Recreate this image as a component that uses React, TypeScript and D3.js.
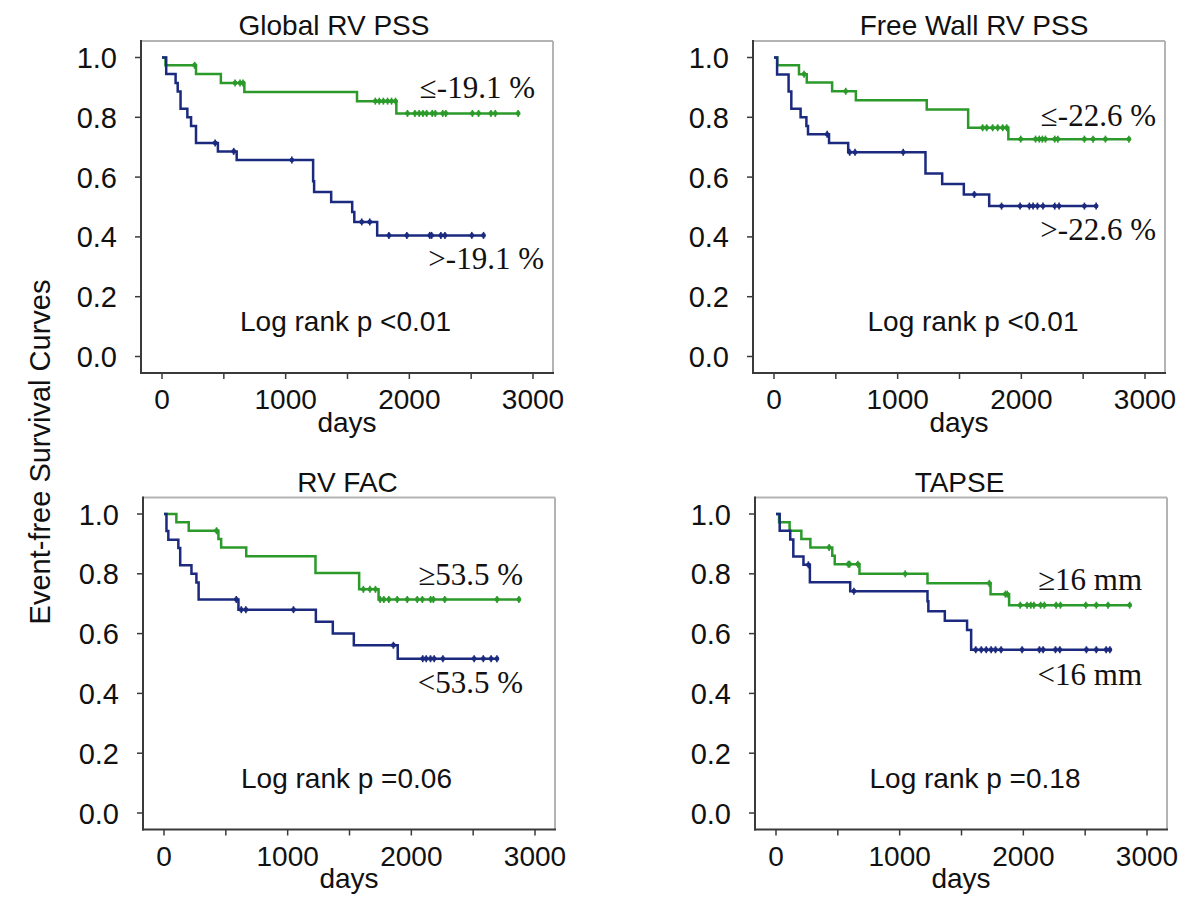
import React from "react";
import * as d3 from "d3";

// ---------- text ----------
const panelTitles = ["Global RV PSS", "Free Wall RV PSS", "RV FAC", "TAPSE"];
const pValueTexts = ["Log rank p <0.01", "Log rank p <0.01", "Log rank p =0.06", "Log rank p =0.18"];
const goodLabels = ["≤-19.1 %", "≤-22.6 %", "≥53.5 %", "≥16 mm"];
const poorLabels = [">-19.1 %", ">-22.6 %", "<53.5 %", "<16 mm"];
const yAxisTitle = "Event-free Survival Curves";
const xAxisTitle = "days";

// ---------- ticks ----------
const xTickValues = [0, 500, 1000, 1500, 2000, 2500, 3000];
const xLabelValues = [0, 1000, 2000, 3000];
const yTickValues = [0, 0.2, 0.4, 0.6, 0.8, 1.0];

// ---------- Global RV PSS ----------
const globalGoodTimes = [0, 28, 275, 476, 666, 1577, 1895];
const globalGoodSurv = [1, 0.974, 0.945, 0.915, 0.885, 0.854, 0.813];
const globalGoodCensor = [264, 591, 631, 655, 1725, 1757, 1790, 1824, 1856, 1888, 1985, 2045, 2080, 2110, 2140, 2185, 2210, 2270, 2295, 2510, 2560, 2660, 2695, 2880];
const globalPoorTimes = [0, 34, 110, 127, 150, 205, 235, 275, 452, 604, 1222, 1230, 1368, 1538, 1555, 1740];
const globalPoorSurv = [1, 0.945, 0.915, 0.886, 0.829, 0.8, 0.771, 0.714, 0.686, 0.657, 0.586, 0.55, 0.517, 0.483, 0.45, 0.405];
const globalPoorCensor = [430, 580, 1050, 1615, 1680, 1835, 1980, 2165, 2180, 2255, 2288, 2505, 2600];

// ---------- Free Wall RV PSS ----------
const freeGoodTimes = [0, 27, 202, 265, 470, 662, 1235, 1570, 1895];
const freeGoodSurv = [1, 0.974, 0.944, 0.916, 0.887, 0.857, 0.826, 0.765, 0.727];
const freeGoodCensor = [243, 580, 1687, 1720, 1768, 1809, 1849, 1882, 1995, 2115, 2145, 2170, 2195, 2270, 2295, 2510, 2580, 2680, 2870];
const freePoorTimes = [0, 25, 118, 140, 215, 262, 275, 445, 600, 1225, 1360, 1535, 1740];
const freePoorSurv = [1, 0.943, 0.886, 0.829, 0.8, 0.771, 0.743, 0.714, 0.683, 0.612, 0.577, 0.542, 0.503];
const freePoorCensor = [430, 612, 655, 1045, 1620, 1840, 1990, 2065, 2095, 2130, 2175, 2270, 2305, 2510, 2605];

// ---------- RV FAC ----------
const facGoodTimes = [0, 100, 200, 440, 462, 665, 1225, 1578, 1735];
const facGoodSurv = [1, 0.972, 0.944, 0.916, 0.888, 0.859, 0.803, 0.748, 0.714];
const facGoodCensor = [425, 1612, 1665, 1710, 1748, 1778, 1818, 1886, 1967, 2048, 2089, 2156, 2178, 2270, 2693, 2870];
const facPoorTimes = [0, 20, 35, 116, 131, 222, 262, 280, 602, 1228, 1365, 1535, 1890];
const facPoorSurv = [1, 0.943, 0.914, 0.886, 0.829, 0.8, 0.771, 0.714, 0.68, 0.64, 0.6, 0.561, 0.516];
const facPoorCensor = [585, 625, 662, 1047, 1855, 2092, 2120, 2155, 2185, 2255, 2508, 2582, 2645, 2692];

// ---------- TAPSE ----------
const tapseGoodTimes = [0, 25, 110, 205, 278, 455, 475, 675, 1225, 1735, 1885];
const tapseGoodSurv = [1, 0.972, 0.944, 0.916, 0.888, 0.86, 0.832, 0.8, 0.768, 0.732, 0.695];
const tapseGoodCensor = [430, 585, 595, 662, 1045, 1725, 1855, 1870, 1975, 2030, 2060, 2085, 2140, 2170, 2265, 2300, 2505, 2590, 2685, 2860];
const tapsePoorTimes = [0, 30, 115, 140, 222, 274, 600, 1225, 1232, 1365, 1545, 1578];
const tapsePoorSurv = [1, 0.944, 0.915, 0.858, 0.83, 0.772, 0.742, 0.708, 0.675, 0.643, 0.612, 0.546];
const tapsePoorCensor = [262, 630, 1615, 1660, 1700, 1740, 1775, 1820, 1990, 2130, 2160, 2260, 2295, 2510, 2590, 2670, 2700];

// label positions in survival units (where the group labels sit)
const goodLabelLevels = [0.863, 0.77, 0.762, 0.745];
const poorLabelLevels = [0.294, 0.39, 0.401, 0.429];

type Series = { times: number[]; surv: number[]; censor: number[] };

const panelSeries: { good: Series; poor: Series }[] = [
  {
    good: { times: globalGoodTimes, surv: globalGoodSurv, censor: globalGoodCensor },
    poor: { times: globalPoorTimes, surv: globalPoorSurv, censor: globalPoorCensor },
  },
  {
    good: { times: freeGoodTimes, surv: freeGoodSurv, censor: freeGoodCensor },
    poor: { times: freePoorTimes, surv: freePoorSurv, censor: freePoorCensor },
  },
  {
    good: { times: facGoodTimes, surv: facGoodSurv, censor: facGoodCensor },
    poor: { times: facPoorTimes, surv: facPoorSurv, censor: facPoorCensor },
  },
  {
    good: { times: tapseGoodTimes, surv: tapseGoodSurv, censor: tapseGoodCensor },
    poor: { times: tapsePoorTimes, surv: tapsePoorSurv, censor: tapsePoorCensor },
  },
];

// ---------- layout (not data) ----------
const GREEN = "#2b9a2b";
const BLUE = "#1b2a7e";
const SANS = "'Liberation Sans', Arial, sans-serif";
const SERIF = "'Liberation Serif', 'Times New Roman', serif";
const BOX_W = 412;
const BOX_H = 332;
const layouts = [
  { left: 141, top: 41, titleDx: -13, pDx: -1.5, goodRight: 394, poorRight: 403 },
  { left: 753, top: 41, titleDx: 15, pDx: 14, goodRight: 403, poorRight: 403 },
  { left: 143, top: 497.5, titleDx: -1.5, pDx: -2.5, goodRight: 380, poorRight: 380 },
  { left: 755, top: 497.5, titleDx: -1.5, pDx: 14, goodRight: 387, poorRight: 387 },
];

function survAt(s: Series, t: number): number {
  let v = s.surv[0];
  for (let i = 0; i < s.times.length; i++) {
    if (s.times[i] <= t) v = s.surv[i];
  }
  return v;
}

function Curve({ s, color, x, y }: { s: Series; color: string; x: d3.ScaleLinear<number, number>; y: d3.ScaleLinear<number, number> }) {
  const end = Math.max(...s.censor, s.times[s.times.length - 1]);
  const pts: [number, number][] = s.times.map((t, i) => [t, s.surv[i]] as [number, number]);
  pts.push([end, s.surv[s.surv.length - 1]]);
  const line = d3
    .line<[number, number]>()
    .x((d) => x(d[0]))
    .y((d) => y(d[1]))
    .curve(d3.curveStepAfter);
  return (
    <g>
      <path d={line(pts) || ""} fill="none" stroke={color} strokeWidth={2.5} />
      {s.censor.map((c, i) => {
        const cx = x(c);
        const cy = y(survAt(s, c));
        return (
          <g key={i}>
            <line x1={cx} x2={cx} y1={cy - 3.5} y2={cy + 3.5} stroke={color} strokeWidth={1.6} />
            <circle cx={cx} cy={cy} r={2.4} fill={color} />
          </g>
        );
      })}
    </g>
  );
}

function Panel({ idx }: { idx: number }) {
  const L = layouts[idx];
  const x = d3.scaleLinear().domain([0, 3000]).range([L.left + 21, L.left + 392]);
  const y = d3.scaleLinear().domain([0, 1]).range([L.top + 315.5, L.top + 16.5]);
  const bottom = L.top + BOX_H;
  const right = L.left + BOX_W;
  const cx = L.left + BOX_W / 2;
  const fmt = d3.format(".1f");
  return (
    <g>
      {/* light top/right border */}
      <line x1={L.left} x2={right} y1={L.top} y2={L.top} stroke="#b4b4b4" strokeWidth={2} />
      <line x1={right} x2={right} y1={L.top} y2={bottom} stroke="#b4b4b4" strokeWidth={2} />
      {/* dark axes */}
      <line x1={L.left} x2={L.left} y1={L.top - 1} y2={bottom + 1} stroke="#3a3a3a" strokeWidth={2} />
      <line x1={L.left - 1} x2={right + 1} y1={bottom} y2={bottom} stroke="#3a3a3a" strokeWidth={2} />
      {yTickValues.map((v) => (
        <g key={"y" + v}>
          <line x1={L.left - 6} x2={L.left} y1={y(v)} y2={y(v)} stroke="#3a3a3a" strokeWidth={1.5} />
          <text x={L.left - 24} y={y(v) + 10.5} textAnchor="end" fontFamily={SANS} fontSize={29} fill="#111">
            {fmt(v)}
          </text>
        </g>
      ))}
      {xTickValues.map((v) => (
        <line key={"x" + v} x1={x(v)} x2={x(v)} y1={bottom} y2={bottom + 6} stroke="#3a3a3a" strokeWidth={1.5} />
      ))}
      {xLabelValues.map((v) => (
        <text key={"xl" + v} x={x(v)} y={bottom + 36} textAnchor="middle" fontFamily={SANS} fontSize={28} fill="#111">
          {String(v)}
        </text>
      ))}
      <text x={cx} y={bottom + 58.5} textAnchor="middle" fontFamily={SANS} fontSize={28} fill="#111">
        {xAxisTitle}
      </text>
      <text x={cx + L.titleDx} y={L.top - 6} textAnchor="middle" fontFamily={SANS} fontSize={28} fill="#111">
        {panelTitles[idx]}
      </text>
      <text x={cx + L.pDx} y={y(0.085)} textAnchor="middle" fontFamily={SANS} fontSize={28} fill="#111">
        {pValueTexts[idx]}
      </text>
      <Curve s={panelSeries[idx].good} color={GREEN} x={x} y={y} />
      <Curve s={panelSeries[idx].poor} color={BLUE} x={x} y={y} />
      <text x={L.left + L.goodRight} y={y(goodLabelLevels[idx])} textAnchor="end" fontFamily={SERIF} fontSize={31} fill="#111">
        {goodLabels[idx]}
      </text>
      <text x={L.left + L.poorRight} y={y(poorLabelLevels[idx])} textAnchor="end" fontFamily={SERIF} fontSize={31} fill="#111">
        {poorLabels[idx]}
      </text>
    </g>
  );
}

export default function App() {
  return (
    <svg
      width={1200}
      height={900}
      viewBox="0 0 1200 900"
      style={{ position: "absolute", left: 0, top: 0, background: "#fff" }}
    >
      <rect x={0} y={0} width={1200} height={900} fill="#fff" />
      {[0, 1, 2, 3].map((i) => (
        <Panel key={i} idx={i} />
      ))}
      <text
        transform="translate(50,452) rotate(-90)"
        textAnchor="middle"
        fontFamily={SANS}
        fontSize={29}
        fill="#111"
      >
        {yAxisTitle}
      </text>
    </svg>
  );
}
